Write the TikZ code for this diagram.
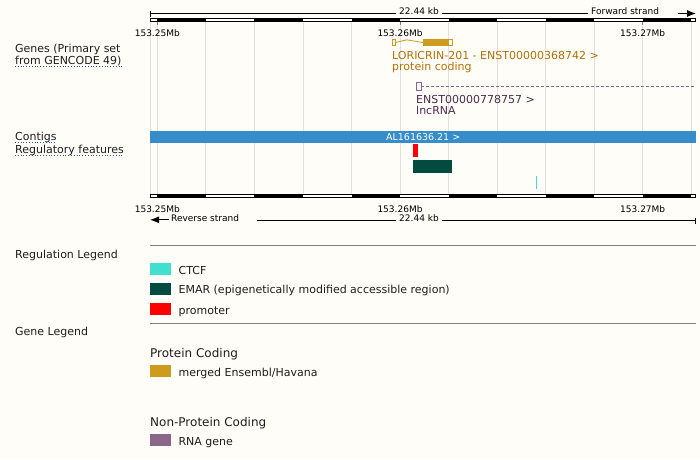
\documentclass[tikz,border=0pt]{standalone}
\usepackage{fontspec}
\setmainfont{DejaVu Sans}
\usepackage{xcolor}
\usepackage{tikz}
\usetikzlibrary{arrows.meta,positioning}

\definecolor{pagebg}{RGB}{255,253,247}
\definecolor{gridgray}{RGB}{224,224,224}
\definecolor{labelgray}{RGB}{30,30,30}
\definecolor{linkblue}{RGB}{40,90,170}
\definecolor{gold}{RGB}{205,155,29}
\definecolor{goldtext}{RGB}{180,112,8}
\definecolor{rnapurple}{RGB}{139,102,139}
\definecolor{rnatext}{RGB}{78,44,78}
\definecolor{contigblue}{RGB}{54,141,201}
\definecolor{promred}{RGB}{255,0,0}
\definecolor{emargreen}{RGB}{2,75,62}
\definecolor{ctcfcyan}{RGB}{64,224,208}
\definecolor{leggray}{RGB}{128,128,128}

\tikzset{
  tracklbl/.style={font=\fontsize{11}{13}\selectfont, anchor=base west, inner sep=0pt, text=labelgray},
  keylbl/.style={tracklbl},
  headlbl/.style={font=\fontsize{12}{14}\selectfont, anchor=base west, inner sep=0pt, text=labelgray},
  ticklbl/.style={font=\fontsize{9}{10}\selectfont, anchor=base, inner ysep=0pt, inner xsep=3pt, text=black},
  keybox/.style={minimum width=21pt, minimum height=12pt, inner sep=0pt, anchor=north west},
  gridline/.style={draw=gridgray, line width=0.8pt},
  dotline/.style={draw=linkblue, dotted, line width=0.8pt},
  scaleline/.style={draw=black, line width=1pt}
}

\begin{document}
\begin{tikzpicture}[x=1pt,y=-1pt]
    \useasboundingbox (0,0) rectangle (700,459);
    \fill[pagebg] (0,0) rectangle (700,459);

    % grid
    \draw[gridline] (150.5,22) -- (150.5,194);
    \foreach \i in {0,...,11}
      \draw[gridline] (157.3+48.55*\i,22) -- (157.3+48.55*\i,194);

    % top scale
    \coordinate (ttick) at (150.5,13.5);
    \draw[scaleline] (150.5,11) -- (150.5,16.5);
    \node[ticklbl] (kbtop) at (419,14) {22.44 kb};
    \node[ticklbl, anchor=base west] (fwd) at (588,14) {Forward strand};
    \draw[scaleline] (ttick) -- (ttick -| kbtop.west);
    \draw[scaleline] (kbtop.east |- ttick) -- (ttick -| fwd.west);
    \coordinate (fwda) at (678,13.5);
    \coordinate (fwdb) at (696,13.5);
    \draw[scaleline, -{Latex[length=9pt,width=7pt]}] (fwda) -- (fwdb);

    \draw[line width=0.9pt, fill=white] (150.5,18.6) rectangle (695.5,21.4);
    \foreach \i in {0,...,5}
      \fill (157.3+97.1*\i,18.2) rectangle (205.85+97.1*\i,21.8);
    \foreach \x/\t/\n in {157.3/153.25Mb/a, 400/153.26Mb/b, 642.7/153.27Mb/c} {
      \draw[gray, line width=0.8pt] (\x,22) -- (\x,25);
      \node[ticklbl] (top\n) at (\x,36) {\t};
    }

    % track labels
    \node[tracklbl] (genes1) at (15,52) {Genes (Primary set};
    \node[tracklbl] (genes2) at (15,64.5) {from GENCODE 49)};
    \draw[dotline] ([yshift=-2pt]genes2.base west) -- ([yshift=-2pt]genes2.base east);
    \node[tracklbl] (contigs) at (15,140.5) {Contigs};
    \draw[dotline] ([yshift=-1.5pt]contigs.base west) -- ([yshift=-1.5pt]contigs.base east);
    \node[tracklbl] (regfeat) at (15,153.5) {Regulatory features};
    \draw[dotline] ([yshift=-2pt]regfeat.base west) -- ([yshift=-2pt]regfeat.base east);

    % LORICRIN-201
    \draw[gold, line width=0.8pt] (392.6,39.6) rectangle (395.2,45.6);
    \draw[gold, line width=0.8pt] (395.2,42.6) -- (406.7,39.8) -- (423.3,42.6);
    \fill[gold] (423.3,39.2) rectangle (448.3,46);
    \draw[gold, line width=0.8pt] (448.3,39.6) rectangle (452,45.6);
    \node[tracklbl, text=goldtext] (lor) at (392,59) {LORICRIN-201 - ENST00000368742 >};
    \node[tracklbl, text=goldtext] (lorbio) at (392,70) {protein coding};

    % lncRNA
    \draw[rnapurple, line width=0.8pt] (416.6,82.2) rectangle (421.4,90.4);
    \draw[rnapurple, line width=0.8pt, dash pattern=on 3pt off 2pt] (421.4,86) -- (696,86);
    \node[tracklbl, text=rnatext] (lnc) at (416,103) {ENST00000778757 >};
    \node[tracklbl, text=rnatext] (lncbio) at (416,114) {lncRNA};

    % contig and regulation
    \node[fill=contigblue, text=white, font=\fontsize{9.5}{10}\selectfont, minimum width=546pt,
      minimum height=12pt, inner sep=0pt, anchor=north west] (contig) at (150,131) {AL161636.21 >};
    \fill[promred] (413,144) rectangle (418,156.7);
    \fill[emargreen] (413,160) rectangle (452,172.7);
    \draw[ctcfcyan, line width=1pt] (536.4,176) -- (536.4,189);

    % bottom scale
    \draw[line width=0.9pt, fill=white] (150.5,194.6) rectangle (695.5,197.4);
    \foreach \i in {0,...,5}
      \fill (157.3+97.1*\i,194.2) rectangle (205.85+97.1*\i,197.8);
    \foreach \x/\t/\n in {157.3/153.25Mb/a, 400/153.26Mb/b, 642.7/153.27Mb/c}
      \node[ticklbl] (bot\n) at (\x,212) {\t};
    \coordinate (reva) at (169,219.8);
    \coordinate (revb) at (150,219.8);
    \draw[scaleline, -{Latex[length=9pt,width=7pt]}] (reva) -- (revb);
    \node[ticklbl, anchor=base west] (rev) at (168,221.5) {Reverse strand};
    \node[ticklbl] (kbbot) at (419,221.5) {22.44 kb};
    \coordinate (btick) at (695,220.5);
    \draw[scaleline] (257,220.5) -- (btick -| kbbot.west);
    \draw[scaleline] (kbbot.east |- btick) -- (btick);
    \draw[scaleline] (695,217.5) -- (695,223.5);

    % regulation legend
    \draw[leggray, line width=1pt] (150,245.5) -- (696,245.5);
    \node[tracklbl] (reglg) at (15,258) {Regulation Legend};
    \node[keybox, fill=ctcfcyan] (ctcfbox) at (150,263) {};
    \node[keybox, fill=emargreen, below=7pt of ctcfbox] (emarbox) {};
    \node[keybox, fill=promred, below=8pt of emarbox] (promobox) {};
    \node[keylbl] (ctcftxt) at ([xshift=7pt,yshift=1pt]ctcfbox.south east) {CTCF};
    \node[keylbl] (emartxt) at ([xshift=7pt,yshift=1pt]emarbox.south east) {EMAR (epigenetically modified accessible region)};
    \node[keylbl] (promotxt) at ([xshift=7pt,yshift=1pt]promobox.south east) {promoter};

    % gene legend
    \draw[leggray, line width=1pt] (150,323.3) -- (696,323.3);
    \node[tracklbl] (genelg) at (15,335.5) {Gene Legend};
    \node[headlbl] (pchead) at (150,357) {Protein Coding};
    \node[keybox, fill=gold] (pcbox) at (150,365) {};
    \node[keylbl] (pctxt) at ([xshift=7pt,yshift=1pt]pcbox.south east) {merged Ensembl/Havana};
    \node[headlbl] (nphead) at (150,426.5) {Non-Protein Coding};
    \node[keybox, fill=rnapurple] (rnabox) at (150,434) {};
    \node[keylbl] (rnatxt) at ([xshift=7pt,yshift=1pt]rnabox.south east) {RNA gene};
\end{tikzpicture}
\end{document}
